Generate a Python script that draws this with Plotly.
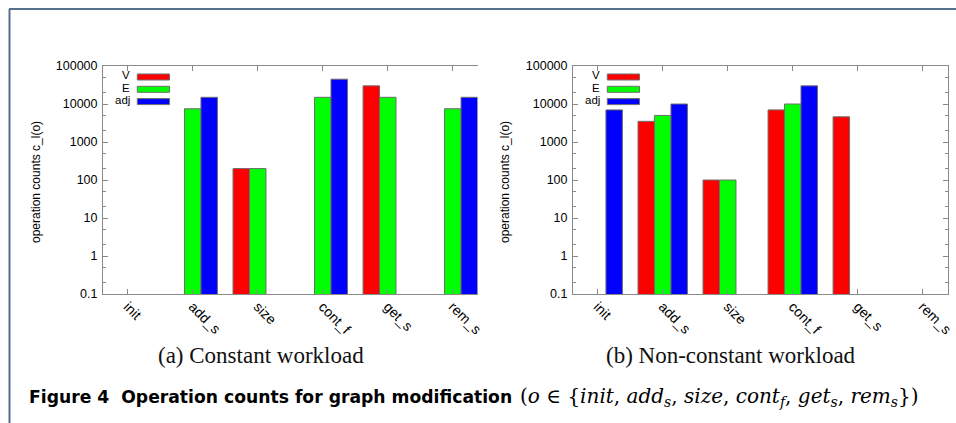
import plotly.graph_objects as go

# Operation names on the x axis
categories = ["init", "add_s", "size", "cont_f", "get_s", "rem_s"]

# (a) Constant workload: operation counts per representation (None = no calls)
const_V = [None, None, 200, None, 30000, None]
const_E = [None, 7500, 200, 15000, 15000, 7500]
const_adj = [None, 15000, None, 45000, None, 15000]

# (b) Non-constant workload
nonconst_V = [None, 3500, 100, 7000, 4600, None]
nonconst_E = [None, 5000, 100, 10000, None, None]
nonconst_adj = [7000, 10000, None, 30000, None, None]

series_names = ["V", "E", "adj"]
series_colors = ["#ff0000", "#00ff00", "#0000ff"]
y_ticks = [0.1, 1, 10, 100, 1000, 10000, 100000]
y_ticktext = ["0.1", "1", "10", "100", "1000", "10000", "100000"]

W, H = 956, 423


def px(x):
    return x / W


def py(y):
    return 1 - y / H


AXIS_COLOR = "#8a8a8a"
SANS = "Liberation Sans, Arial, sans-serif"
SERIF = "Liberation Serif, serif"
MATH = "DejaVu Serif, serif"

fig = go.Figure()

panels = [
    (const_V, const_E, const_adj, "x", "y"),
    (nonconst_V, nonconst_E, nonconst_adj, "x2", "y2"),
]
for vals_V, vals_E, vals_adj, xa, ya in panels:
    for name, color, vals in zip(series_names, series_colors, [vals_V, vals_E, vals_adj]):
        fig.add_trace(go.Bar(
            x=categories, y=vals, name=name, xaxis=xa, yaxis=ya,
            marker=dict(color=color, line=dict(color="#6e6e6e", width=1)),
            showlegend=False, offsetgroup=name,
        ))

plot_top, plot_bottom = 66, 294
left_dom = (103, 477.5)
right_dom = (573, 947.5)

xaxis_common = dict(
    type="category", range=[-0.38, 5.38],
    showline=True, linecolor=AXIS_COLOR, linewidth=1,
    ticks="inside", ticklen=5, tickcolor=AXIS_COLOR,
    tickangle=45, ticklabelstandoff=-2,
    tickfont=dict(family=SANS, size=14, color="#000"),
    showgrid=False, zeroline=False, fixedrange=True, automargin=False,
)
yaxis_common = dict(
    type="log", range=[-1, 5],
    showline=True, linecolor=AXIS_COLOR, linewidth=1,
    ticks="inside", ticklen=5, tickcolor=AXIS_COLOR,
    tickvals=y_ticks, ticktext=y_ticktext, ticklabelstandoff=2,
    tickfont=dict(family=SANS, size=12.5, color="#000"),
    minor=dict(ticks="inside", ticklen=3, tickcolor=AXIS_COLOR, dtick="D2", showgrid=False),
    showgrid=False, zeroline=False, fixedrange=True, automargin=False,
)

fig.update_layout(
    width=W, height=H, autosize=False,
    margin=dict(l=0, r=0, t=0, b=0, pad=0, autoexpand=False),
    paper_bgcolor="white", plot_bgcolor="white",
    barmode="group", bargap=0.24, bargroupgap=0,
    showlegend=False,
    xaxis=dict(xaxis_common, domain=[px(left_dom[0]), px(left_dom[1])], anchor="y", mirror="ticks"),
    yaxis=dict(yaxis_common, domain=[py(plot_bottom), py(plot_top)], anchor="x", mirror=False),
    xaxis2=dict(xaxis_common, domain=[px(right_dom[0]), px(right_dom[1])], anchor="y2", mirror="ticks"),
    yaxis2=dict(yaxis_common, domain=[py(plot_bottom), py(plot_top)], anchor="x2", mirror="ticks"),
)

shapes = []
annotations = []

# Key boxes inside each panel
for x0 in (left_dom[0], right_dom[0]):
    for i, (name, color) in enumerate(zip(series_names, series_colors)):
        yc = 77 + 12.3 * i
        shapes.append(dict(
            type="rect", xref="paper", yref="paper",
            x0=px(x0 + 34.3), x1=px(x0 + 66.5), y0=py(yc + 3), y1=py(yc - 3),
            fillcolor=color, line=dict(color="#6e6e6e", width=1), layer="above",
        ))
        annotations.append(dict(
            xref="paper", yref="paper", x=px(x0 + 28), y=py(yc - 1.5),
            text=name, showarrow=False, xanchor="right", yanchor="middle",
            borderpad=0,
            font=dict(family=SANS, size=11.5, color="#000"),
        ))

# Y-axis titles
for xc in (36, 505):
    annotations.append(dict(
        xref="paper", yref="paper", x=px(xc), y=py(182),
        text="operation counts c_l(o)", textangle=-90, showarrow=False,
        xanchor="center", yanchor="middle",
        font=dict(family=SANS, size=12, color="#000"),
    ))

# Sub-figure captions
annotations.append(dict(
    xref="paper", yref="paper", x=px(261), y=py(355),
    text="(a) Constant workload", showarrow=False, xanchor="center", yanchor="middle",
    font=dict(family=SERIF, size=23, color="#111"),
))
annotations.append(dict(
    xref="paper", yref="paper", x=px(731), y=py(355),
    text="(b) Non-constant workload", showarrow=False, xanchor="center", yanchor="middle",
    font=dict(family=SERIF, size=23, color="#111"),
))

# Figure caption
annotations.append(dict(
    xref="paper", yref="paper", x=px(27), y=py(397),
    text="<b>Figure 4  Operation counts for graph modification</b>",
    showarrow=False, xanchor="left", yanchor="middle",
    font=dict(family="DejaVu Sans, sans-serif", size=17.2, color="#000"),
))
annotations.append(dict(
    xref="paper", yref="paper", x=px(518), y=py(397),
    text="(<i>o</i> ∈ {<i>init</i>, <i>add<sub>s</sub></i>, <i>size</i>, <i>cont<sub>f</sub></i>, "
         "<i>get<sub>s</sub></i>, <i>rem<sub>s</sub></i>})",
    showarrow=False, xanchor="left", yanchor="middle",
    font=dict(family=MATH, size=20, color="#000"),
))

# Page frame lines
shapes.append(dict(type="line", xref="paper", yref="paper",
                   x0=px(9), x1=1, y0=py(9), y1=py(9),
                   line=dict(color="#56708c", width=2)))
shapes.append(dict(type="line", xref="paper", yref="paper",
                   x0=px(9.5), x1=px(9.5), y0=py(9), y1=0,
                   line=dict(color="#56708c", width=2)))

fig.update_layout(shapes=shapes, annotations=annotations)

fig.write_html("out.html", post_script="document.body.style.margin='0';")
